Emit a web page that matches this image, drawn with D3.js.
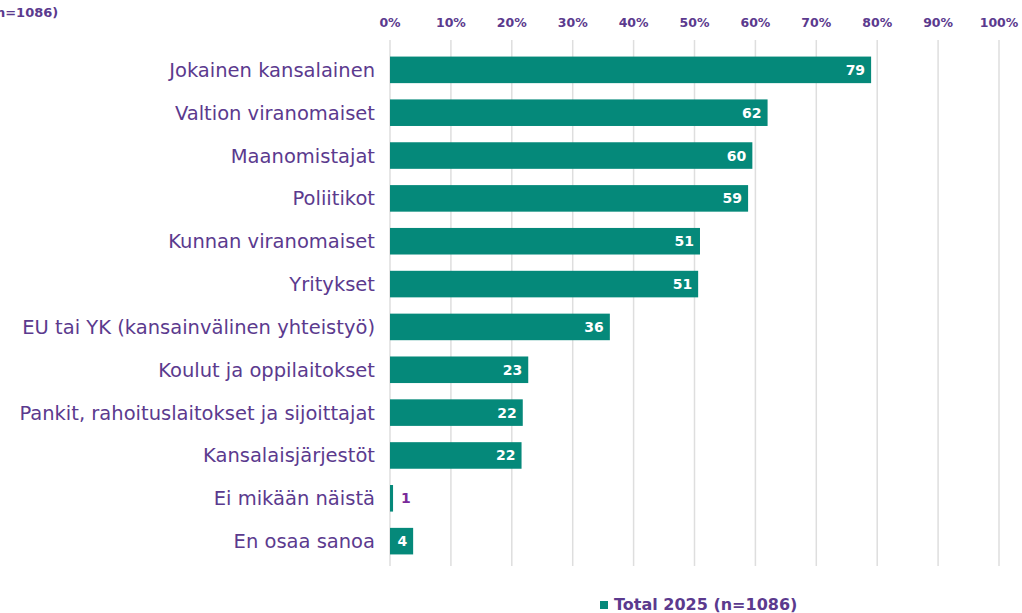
<!DOCTYPE html>
<html>
<head>
<meta charset="utf-8">
<script src="https://cdn.jsdelivr.net/npm/d3@7"></script>
<style>
  body { margin: 0; background: #fff; }
  svg { display: block; font-family: "DejaVu Sans", Verdana, sans-serif; }
</style>
</head>
<body>
<div id="chart"></div>
<script>
// data (bar lengths as drawn, labels are the rounded values)
const categories = [
  'Jokainen kansalainen',
  'Valtion viranomaiset',
  'Maanomistajat',
  'Poliitikot',
  'Kunnan viranomaiset',
  'Yritykset',
  'EU tai YK (kansainvälinen yhteistyö)',
  'Koulut ja oppilaitokset',
  'Pankit, rahoituslaitokset ja sijoittajat',
  'Kansalaisjärjestöt',
  'Ei mikään näistä',
  'En osaa sanoa'
];
const values = [79, 62, 59.5, 58.8, 50.9, 50.6, 36.1, 22.7, 21.8, 21.6, 0.5, 3.8];
const ticks = [0, 10, 20, 30, 40, 50, 60, 70, 80, 90, 100];
const seriesName = 'Total 2025 (n=1086)';

const width = 1022, height = 613;
const teal = '#05897a';
const purple = '#5b3a8e';

const svg = d3.select('#chart')
  .append('svg')
    .attr('width', width)
    .attr('height', height);

const x = d3.scaleLinear().domain([0, 100]).range([390, 999]);
const y = d3.scaleBand().domain(categories).range([48, 563]).paddingInner(0.38).paddingOuter(0.2);

// gridlines
svg.append('g')
  .selectAll('line')
  .data(ticks)
  .join('line')
    .attr('x1', d => x(d)).attr('x2', d => x(d))
    .attr('y1', 40).attr('y2', 566)
    .attr('stroke', '#dedede')
    .attr('stroke-width', 1.5);

// top axis labels
svg.append('g')
  .selectAll('text')
  .data(ticks)
  .join('text')
    .attr('x', d => x(d))
    .attr('y', 27)
    .attr('text-anchor', 'middle')
    .attr('fill', purple)
    .style('font-size', '12.5px')
    .style('font-weight', '600')
    .text(d => d + '%');

// bars
const rows = categories.map((c, i) => ({ cat: c, val: values[i] }));

svg.append('g')
  .selectAll('rect')
  .data(rows)
  .join('rect')
    .attr('x', x(0))
    .attr('y', d => y(d.cat))
    .attr('width', d => x(d.val) - x(0))
    .attr('height', y.bandwidth())
    .attr('fill', teal);

// value labels
svg.append('g')
  .selectAll('text')
  .data(rows)
  .join('text')
    .attr('x', d => d.val < 3 ? x(d.val) + 8 : x(d.val) - 6)
    .attr('y', d => y(d.cat) + y.bandwidth() / 2)
    .attr('dy', '0.36em')
    .attr('text-anchor', d => d.val < 3 ? 'start' : 'end')
    .attr('fill', d => d.val < 3 ? '#7a2a9a' : '#fff')
    .style('font-size', '14px')
    .style('font-weight', '600')
    .text(d => Math.round(d.val));

// category labels
svg.append('g')
  .selectAll('text')
  .data(rows)
  .join('text')
    .attr('x', 375)
    .attr('y', d => y(d.cat) + y.bandwidth() / 2)
    .attr('dy', '0.36em')
    .attr('text-anchor', 'end')
    .attr('fill', purple)
    .style('font-size', '19.5px')
    .text(d => d.cat);

// cut-off note at top left
svg.append('text')
  .attr('x', -10)
  .attr('y', 17)
  .attr('fill', purple)
  .style('font-size', '13px')
  .style('font-weight', 'bold')
  .text('(n=1086)');

// legend
const lg = svg.append('g').attr('transform', 'translate(600,610)');
lg.append('rect')
  .attr('x', 0).attr('y', -9)
  .attr('width', 8).attr('height', 8)
  .attr('fill', teal);
lg.append('text')
  .attr('x', 14)
  .attr('y', 0)
  .attr('fill', purple)
  .style('font-size', '16px')
  .style('font-weight', 'bold')
  .text(seriesName);
</script>
</body>
</html>
